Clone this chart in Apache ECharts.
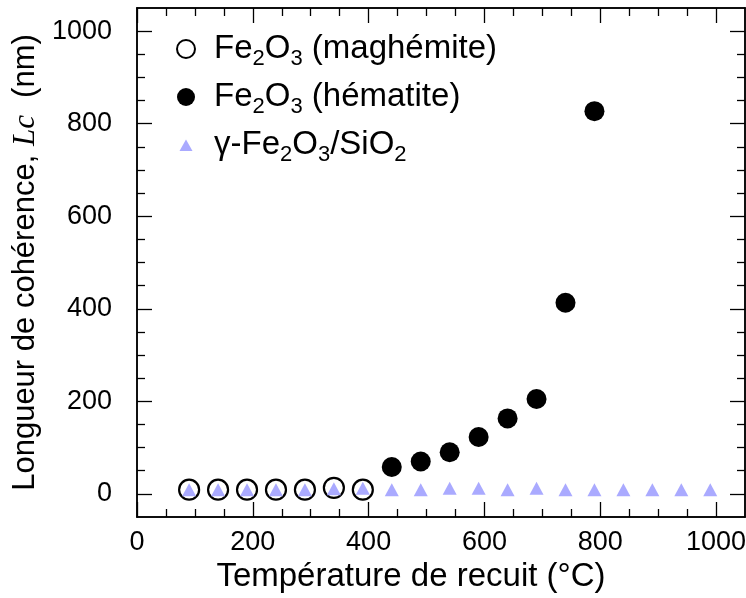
<!DOCTYPE html>
<html><head><meta charset="utf-8">
<script src="https://cdn.jsdelivr.net/npm/echarts@6/dist/echarts.min.js"></script>
<style>html,body{margin:0;padding:0;background:#fff}#c{width:746px;height:598px}</style>
</head><body><div id="c"></div>
<script>
// ---- data ----
const maghemiteX = [90, 140, 190, 240, 290, 340, 390];
const maghemiteY = [9, 9, 9, 9, 9, 13, 9];
const hematiteX = [440, 490, 540, 590, 640, 690, 740, 790];
const hematiteY = [58, 70, 90, 123, 163, 205, 413, 827];
const sio2X = [90, 140, 190, 240, 290, 340, 390, 440, 490, 540, 590, 640, 690, 740, 790, 840, 890, 940, 990];
const sio2Y = [9, 9, 9, 9, 9, 11, 12, 9, 9, 12, 12, 9, 12, 9, 9, 9, 9, 9, 9];
const xMajorTicks = [0, 200, 400, 600, 800, 1000];
const xMinorTicks = [50, 100, 150, 250, 300, 350, 450, 500, 550, 650, 700, 750, 850, 900, 950];
const yMajorTicks = [0, 200, 400, 600, 800, 1000];
const yMinorTicks = [50, 100, 150, 250, 300, 350, 450, 500, 550, 650, 700, 750, 850, 900, 950];
const seriesNames = ['Fe2O3 (maghémite)', 'Fe2O3 (hématite)', 'γ-Fe2O3/SiO2'];
const legendLabels = ['Fe{sub|2}O{sub|3} (maghémite)', 'Fe{sub|2}O{sub|3} (hématite)', 'γ-Fe{sub|2}O{sub|3}/SiO{sub|2}'];
const xTitle = 'Température de recuit (°C)';
const yTitle = 'Longueur de cohérence, {it|Lc}  (nm)';

const FONT = "'Liberation Sans', Arial, sans-serif";
const zip = (xs, ys) => xs.map((x, i) => [x, ys[i]]);
const fmt = v => String(v);

function xAxis(pos, ticks, len, withLabels, extra) {
  return Object.assign({
    type: 'value', position: pos, min: 0, max: 1050, gridIndex: 0,
    axisLine: { show: true, onZero: false, lineStyle: { color: '#000', width: 1.5 } },
    axisTick: { show: true, inside: true, length: len, customValues: ticks, lineStyle: { color: '#000', width: 1.3 } },
    axisLabel: { show: withLabels, customValues: ticks, formatter: fmt, color: '#000', fontSize: 27, fontFamily: FONT, margin: 12 },
    splitLine: { show: false }
  }, extra || {});
}
function yAxis(pos, ticks, len, withLabels, extra) {
  return Object.assign({
    type: 'value', position: pos, min: -50, max: 1050, gridIndex: 0,
    axisLine: { show: true, onZero: false, lineStyle: { color: '#000', width: 1.5 } },
    axisTick: { show: true, inside: true, length: len, customValues: ticks, lineStyle: { color: '#000', width: 1.3 } },
    axisLabel: { show: withLabels, customValues: ticks, formatter: fmt, color: '#000', fontSize: 27, fontFamily: FONT, margin: 25 },
    splitLine: { show: false }
  }, extra || {});
}

const chart = echarts.init(document.getElementById('c'), null, { renderer: 'canvas' });
chart.setOption({
  backgroundColor: '#fff',
  animation: false,
  grid: { left: 137, right: 1, top: 8, bottom: 81, containLabel: false, outerBoundsMode: 'none' },
  legend: {
    orient: 'vertical', left: 171, top: 23, itemWidth: 18, itemHeight: 18, itemGap: 6,
    data: [
      { name: seriesNames[0] },
      { name: seriesNames[1] },
      { name: seriesNames[2], icon: 'path://M0,0M18,18M2.5,15L9,3.5L15.5,15Z' }
    ],
    formatter: name => legendLabels[seriesNames.indexOf(name)],
    textStyle: {
      color: '#000', fontSize: 33, fontFamily: FONT, lineHeight: 42, padding: [0, 0, 0, 14],
      rich: { sub: { fontSize: 22, lineHeight: 21, verticalAlign: 'bottom', fontFamily: FONT, color: '#000' } }
    }
  },
  xAxis: [
    xAxis('bottom', xMajorTicks, 15, true, {
      name: xTitle, nameLocation: 'middle', nameGap: 43,
      nameTextStyle: { color: '#000', fontSize: 33, fontFamily: FONT, padding: [0, 60, 0, 0] }
    }),
    xAxis('bottom', xMinorTicks, 8, false),
    xAxis('top', xMajorTicks, 15, false),
    xAxis('top', xMinorTicks, 8, false)
  ],
  yAxis: [
    yAxis('left', yMajorTicks, 15, true, {
      name: yTitle, nameLocation: 'middle', nameGap: 87, nameRotate: 90,
      nameTextStyle: { color: '#000', fontSize: 31, fontFamily: FONT,
        rich: { it: { fontSize: 31, fontFamily: "'Liberation Serif', 'Times New Roman', serif", fontStyle: 'italic', color: '#000' } } }
    }),
    yAxis('left', yMinorTicks, 8, false),
    yAxis('right', yMajorTicks, 15, false),
    yAxis('right', yMinorTicks, 8, false)
  ],
  series: [
    { name: seriesNames[0], type: 'scatter', xAxisIndex: 0, yAxisIndex: 0, symbol: 'circle', symbolSize: 20,
      itemStyle: { color: 'rgba(255,255,255,0)', borderColor: '#000', borderWidth: 2.2, opacity: 1 }, data: zip(maghemiteX, maghemiteY), z: 3 },
    { name: seriesNames[1], type: 'scatter', xAxisIndex: 0, yAxisIndex: 0, symbol: 'circle', symbolSize: 20,
      itemStyle: { color: '#000', opacity: 1 }, data: zip(hematiteX, hematiteY), z: 3 },
    { name: seriesNames[2], type: 'scatter', xAxisIndex: 0, yAxisIndex: 0, symbol: 'triangle', symbolSize: [14, 13],
      itemStyle: { color: '#aaaaff', opacity: 1 }, data: zip(sio2X, sio2Y), z: 4 }
  ]
});
</script></body></html>
